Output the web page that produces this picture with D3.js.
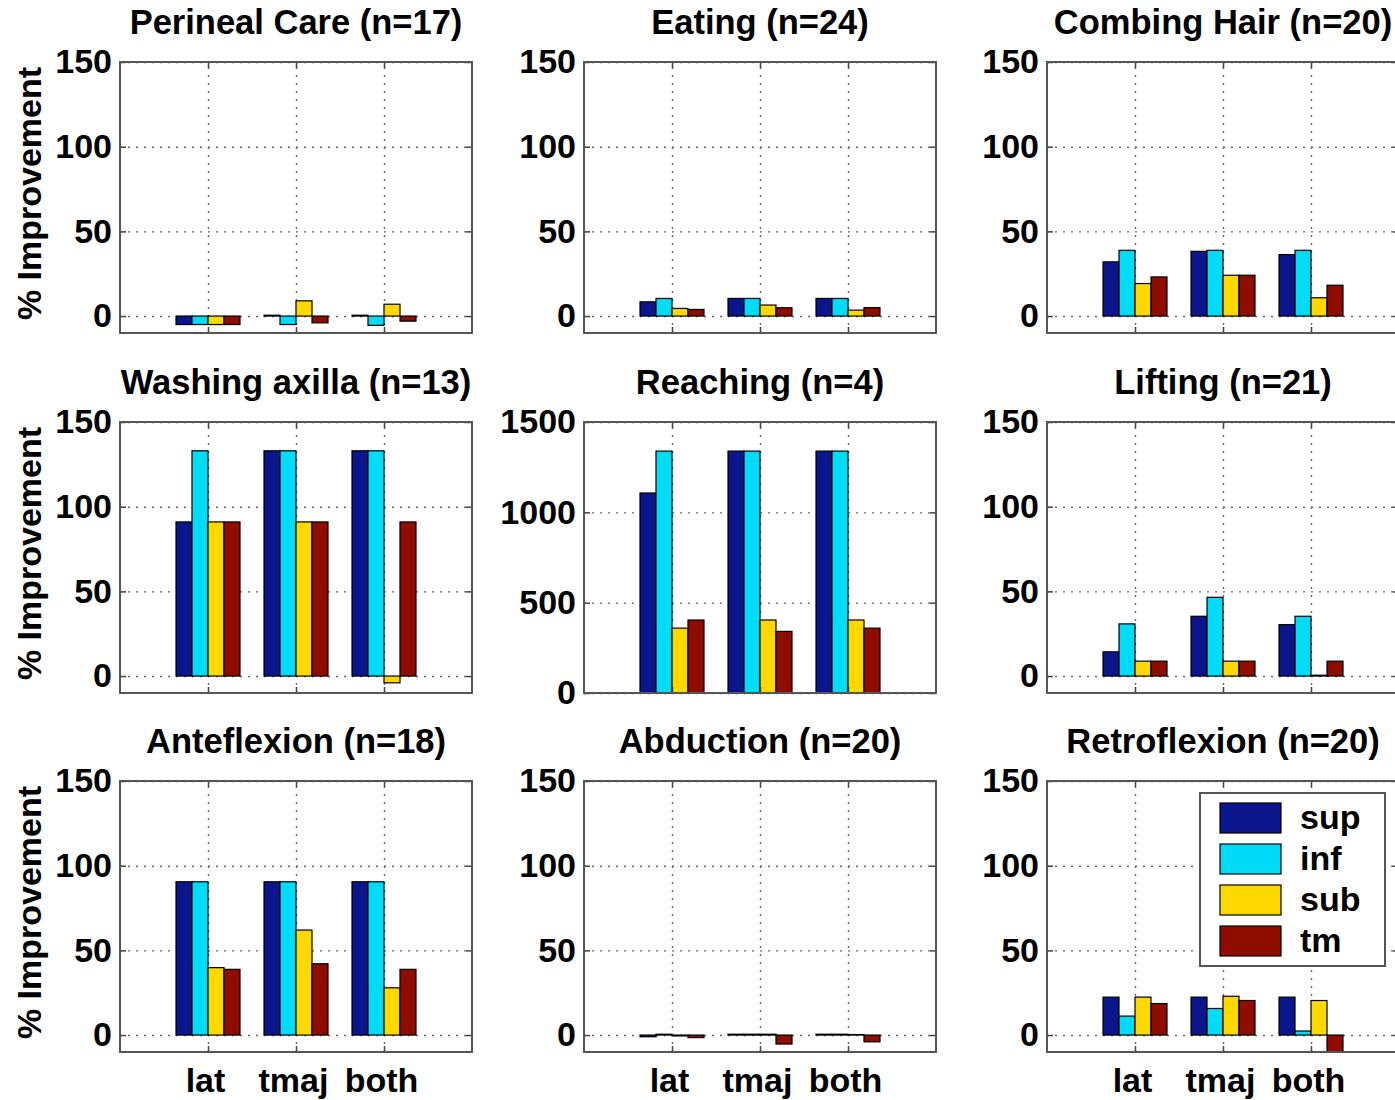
<!DOCTYPE html>
<html><head><meta charset="utf-8">
<script src="https://cdn.jsdelivr.net/npm/d3@7"></script>
<style>
body{margin:0;background:#fff}
text{font-family:"Liberation Sans",Arial,sans-serif;font-weight:bold;fill:#000}
</style>
</head><body>
<svg id="chart" width="1395" height="1100"></svg>
<script>
// ---------------- data ----------------
const categories = ["lat", "tmaj", "both"];
const seriesNames = ["sup", "inf", "sub", "tm"];
const seriesColors = ["#0b168c", "#00dcf8", "#ffd800", "#8e0c00"];
const panelTitles = [
  "Perineal Care (n=17)", "Eating (n=24)", "Combing Hair (n=20)",
  "Washing axilla (n=13)", "Reaching (n=4)", "Lifting (n=21)",
  "Anteflexion (n=18)", "Abduction (n=20)", "Retroflexion (n=20)"
];
const yTicksSmall = [0, 50, 100, 150];
const yTicksLarge = [0, 500, 1000, 1500];
// each row = one category (lat, tmaj, both); columns = sup, inf, sub, tm
const perinealCare = [[-5, -5, -5, -5], [0.5, -5, 9, -4], [0.5, -5.5, 7, -3]];
const eating       = [[8.4, 10.4, 4.5, 3.9], [10.4, 10.4, 6.5, 4.9], [10.4, 10.4, 3.5, 5]];
const combingHair  = [[32, 38.8, 19.2, 23.1], [38.2, 38.8, 24.1, 24.1], [36.3, 38.8, 10.8, 18.2]];
const washingAxilla= [[91, 133, 91, 91], [133, 133, 91, 91], [133, 133, -4, 91]];
const reaching     = [[1107, 1339, 359, 404], [1339, 1339, 404, 341], [1339, 1339, 404, 359]];
const lifting      = [[14.3, 30.8, 8.8, 8.8], [35.3, 46.5, 8.8, 8.8], [30.4, 35.3, 0.5, 8.8]];
const anteflexion  = [[90.5, 90.5, 39.8, 38.8], [90.5, 90.5, 62, 42.1], [90.5, 90.5, 27.9, 38.8]];
const abduction    = [[-1, 0.5, -0.5, -1.5], [0.5, 0.5, 0.5, -5.3], [0.5, 0.5, 0.3, -4]];
const retroflexion = [[22.4, 11.2, 22.4, 18.6], [22.4, 15.7, 22.9, 20.4], [22.4, 2.4, 20.4, -12]];
const panelData = [perinealCare, eating, combingHair, washingAxilla, reaching, lifting, anteflexion, abduction, retroflexion];

// ---------------- layout ----------------
const colX = [120, 584, 1047];
const rowY = [62, 422, 781];
const W = 352, H = 271;
const FS = 34;
const TFS = 34.5;
const barW = 0.1818;

const svg = d3.select("#chart");
const defs = svg.append("defs");

panelData.forEach((data, p) => {
  const r = Math.floor(p / 3), c = p % 3;
  const isLarge = p === 4;
  const yt = isLarge ? yTicksLarge : yTicksSmall;
  const y = d3.scaleLinear().domain(isLarge ? [0, 1500] : [-10, 150]).range([H, 0]);
  const x = d3.scaleLinear().domain([0, 4]).range([0, W]);
  const g = svg.append("g").attr("transform", `translate(${colX[c]},${rowY[r]})`);

  defs.append("clipPath").attr("id", "clip" + p)
    .append("rect").attr("x", 0).attr("y", 0).attr("width", W).attr("height", H);

  g.append("rect").attr("width", W).attr("height", H).attr("fill", "#fff");

  // grid
  const gy = g.append("g").call(d3.axisLeft(y).tickValues(yt).tickSize(-W).tickFormat(""));
  const gx = g.append("g").attr("transform", `translate(0,${H})`)
    .call(d3.axisBottom(x).tickValues([1, 2, 3]).tickSize(-H).tickFormat(""));
  [gy, gx].forEach(a => {
    a.select(".domain").remove();
    a.selectAll("line").attr("stroke", "#666").attr("stroke-width", 1.4).attr("stroke-dasharray", "2,6");
  });

  // bars
  const bars = g.append("g").attr("clip-path", `url(#clip${p})`);
  data.forEach((vals, ci) => {
    vals.forEach((v, si) => {
      const cx = ci + 1 + (si - 1.5) * barW;
      bars.append("rect")
        .attr("x", x(cx - barW / 2))
        .attr("width", x(barW) - x(0))
        .attr("y", y(Math.max(v, 0)))
        .attr("height", Math.abs(y(v) - y(0)))
        .attr("fill", seriesColors[si])
        .attr("stroke", "#000").attr("stroke-width", 1.2);
    });
  });

  // tick axes
  const left = g.append("g").call(d3.axisLeft(y).tickValues(yt).tickSizeInner(-6).tickSizeOuter(0)
    .tickPadding(8).tickFormat(d3.format("d")));
  const right = g.append("g").attr("transform", `translate(${W},0)`)
    .call(d3.axisRight(y).tickValues(yt).tickSizeInner(-6).tickSizeOuter(0).tickFormat(""));
  const top = g.append("g").call(d3.axisTop(x).tickValues([1, 2, 3]).tickSizeInner(-6).tickSizeOuter(0).tickFormat(""));
  const bottom = g.append("g").attr("transform", `translate(0,${H})`)
    .call(d3.axisBottom(x).tickValues([1, 2, 3]).tickSizeInner(-6).tickSizeOuter(0).tickPadding(16)
      .tickFormat(r === 2 ? (d => categories[d - 1]) : ""));
  [left, right, top, bottom].forEach(a => {
    a.attr("font-size", null).attr("font-family", null);
    a.select(".domain").remove();
    a.selectAll("line").attr("stroke", "#444").attr("stroke-width", 1.5);
    a.selectAll("text").attr("font-size", FS).attr("fill", "#000");
  });
  bottom.selectAll("text").attr("dx", -3);

  g.append("rect").attr("width", W).attr("height", H)
    .attr("fill", "none").attr("stroke", "#555").attr("stroke-width", 2);

  // title
  g.append("text").attr("x", W / 2).attr("y", -28).attr("text-anchor", "middle")
    .attr("font-size", TFS).text(panelTitles[p]);

  if (c === 0) {
    svg.append("text")
      .attr("transform", `translate(41,${rowY[r] + H / 2 - 4}) rotate(-90)`)
      .attr("text-anchor", "middle").attr("font-size", FS).text("% Improvement");
  }
});

// legend
const lg = svg.append("g").attr("transform", "translate(1200,793)");
lg.append("rect").attr("width", 185).attr("height", 173)
  .attr("fill", "#fff").attr("stroke", "#555").attr("stroke-width", 2);
seriesNames.forEach((s, i) => {
  lg.append("rect").attr("x", 20).attr("y", 10 + i * 41).attr("width", 61).attr("height", 30)
    .attr("fill", seriesColors[i]).attr("stroke", "#000").attr("stroke-width", 1.2);
  lg.append("text").attr("x", 100).attr("y", 10 + i * 41 + 26).attr("font-size", FS).text(s);
});
</script>
</body></html>
